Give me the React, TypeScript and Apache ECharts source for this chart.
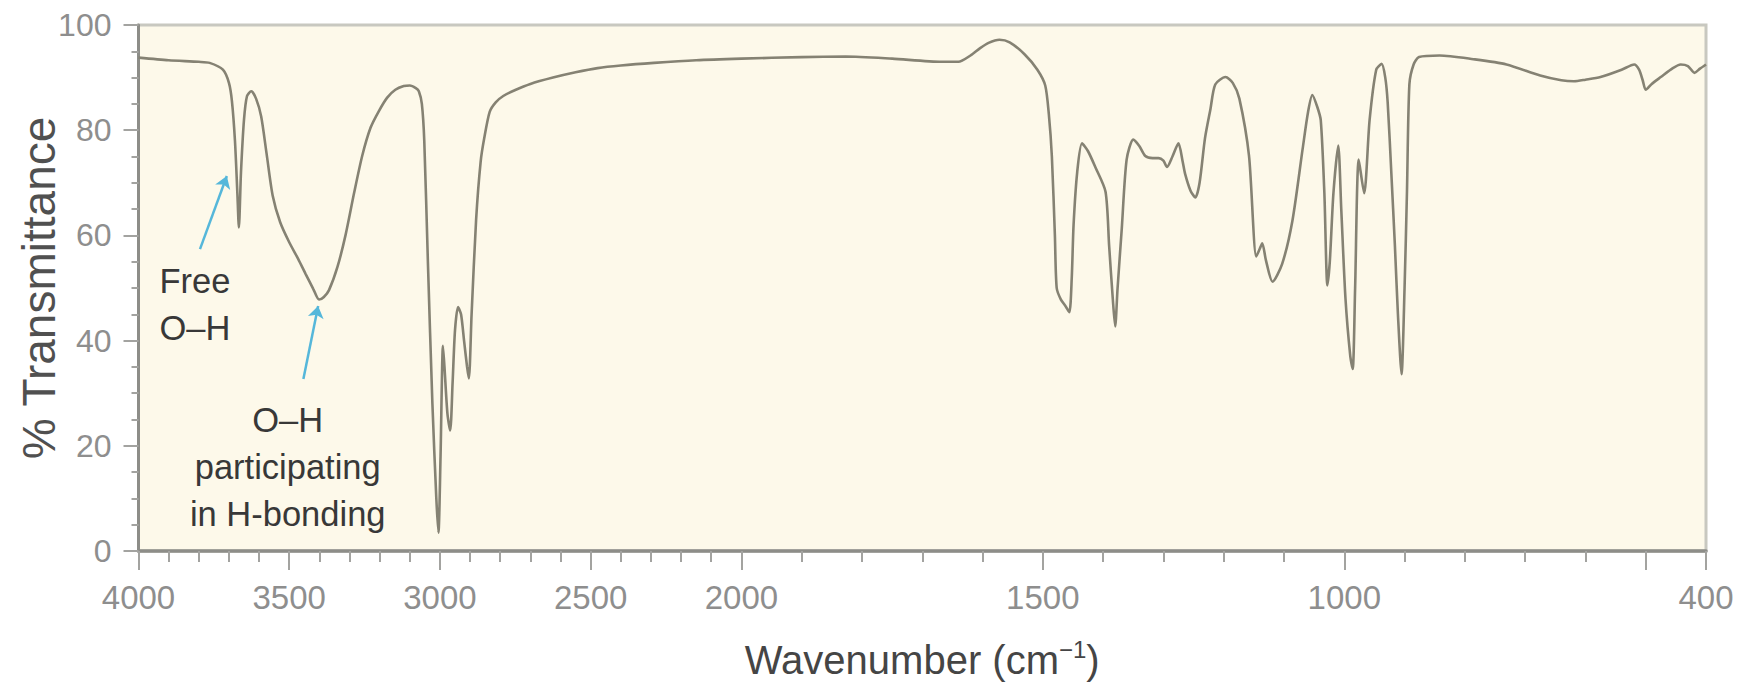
import React, { useEffect, useRef } from "react";
import * as echarts from "echarts";

// ---- Data (wavenumber in cm^-1, % transmittance) ----
const WAVENUMBERS = [
  4000, 3900, 3800, 3764, 3720, 3700, 3690, 3680, 3672, 3667, 3660, 3650, 3640, 3626, 3610, 3593, 3575, 3555, 3530, 3500,
  3470, 3445, 3420, 3401, 3385, 3368, 3340, 3313, 3285, 3258, 3230, 3203, 3175, 3148, 3120, 3100, 3080, 3070, 3060, 3052,
  3040, 3025, 3012, 3005, 2998, 2990, 2985, 2975, 2966, 2958, 2950, 2940, 2930, 2920, 2910, 2904, 2895, 2880, 2865, 2853,
  2835, 2815, 2790, 2752, 2700, 2625, 2550, 2477, 2400, 2290, 2150, 2000, 1900, 1827, 1750, 1668, 1640, 1620, 1604, 1590,
  1572, 1555, 1530, 1509, 1496, 1490, 1485, 1480, 1477, 1470, 1462, 1456, 1452, 1449, 1443, 1435, 1425, 1413, 1396, 1390,
  1384, 1380, 1376, 1369, 1361, 1350, 1340, 1330, 1318, 1308, 1300, 1294, 1285, 1275, 1268, 1264, 1255, 1247, 1240, 1231,
  1222, 1214, 1197, 1185, 1174, 1158, 1146, 1140, 1136, 1130, 1119, 1103, 1086, 1069, 1060, 1053, 1045, 1039, 1033, 1028,
  1024, 1018, 1010, 1005, 998, 990, 986, 982, 976, 967, 958, 947, 938, 932, 928, 922, 916, 911, 905, 900,
  896, 892, 885, 876, 842, 786, 731, 675, 640, 619, 600, 575, 540, 519, 511, 505, 500, 490, 475, 455,
  442, 430, 419, 410, 400,
];
const TRANSMITTANCE = [
  93.8, 93.3, 93.0, 92.8, 91.5, 89.0, 85.5, 78, 68, 61.5, 72, 82, 86.5, 87.4, 86, 82.6, 75.5, 67.6, 62.5, 58.7,
  55.5, 52.6, 49.8, 47.8, 48.3, 49.6, 54, 60.1, 68, 75.1, 80.5, 83.6, 86.2, 87.7, 88.4, 88.5, 88.0, 87.4, 85.0, 78,
  55, 28, 10, 3.5, 18, 39, 35, 26, 22.9, 32, 42, 46.4, 45, 40, 35, 32.8, 45, 63, 74, 78.5,
  83.5, 85.3, 86.5, 87.6, 88.8, 90, 91.0, 91.8, 92.3, 92.8, 93.3, 93.6, 93.9, 94.0, 93.6, 93.0, 93.0, 94.2, 95.6, 96.6,
  97.2, 96.7, 94.4, 91.5, 88.5, 83, 75, 60, 50, 47.8, 46.5, 45.4, 52, 62, 72, 77.5, 76, 73.0, 68.3, 58,
  48, 42.7, 50, 61.4, 74.4, 78.2, 77, 75.1, 74.7, 74.7, 74.2, 73.0, 75, 77.5, 74, 71.7, 68.5, 67.2, 70, 78.5,
  84, 88.7, 90.1, 89, 86, 75.1, 56, 57.5, 58.5, 55.3, 51.2, 54.6, 62.8, 76.5, 83.5, 86.7, 84.5, 81.9, 68, 50.5,
  55, 68, 77.1, 65, 48, 37, 34.6, 50, 74.4, 68, 81.9, 91.5, 92.6, 90, 85.3, 72, 58.0, 45, 33.6, 50,
  68.3, 88.7, 92.5, 93.9, 94.2, 93.5, 92.5, 90.4, 89.5, 89.3, 89.6, 90.1, 91.5, 92.5, 91.5, 89.5, 87.7, 88.8, 90.1, 91.8,
  92.5, 92.2, 90.9, 91.7, 92.5,
];

// Axis ticks (wavenumbers)
const X_LABEL_TICKS = [4000, 3500, 3000, 2500, 2000, 1500, 1000, 400];
const X_MAJOR_TICKS = [4000, 3500, 3000, 2500, 2000, 1500, 1000, 500, 400];
const X_MINOR_TICKS = [
  3900, 3800, 3700, 3600, 3400, 3300, 3200, 3100, 2900, 2800, 2700, 2600, 2400, 2300, 2200, 2100,
  1900, 1800, 1700, 1600, 1400, 1300, 1200, 1100, 900, 800, 700, 600,
];
const Y_TICKS = [0, 20, 40, 60, 80, 100];

// Annotations: [wavenumber, transmittance]
const FREE_OH_LABEL = { text: "Free\nO–H", at: [3813, 46.8] };
const HBOND_LABEL = { text: "O–H\nparticipating\nin H-bonding", at: [3505, 15.9] };
const ARROWS = [
  { from: [3796, 57.4], to: [3707, 71.3] },
  { from: [3453, 32.7], to: [3404, 46.6] },
];

// IR spectra use a doubled scale below 2000 cm^-1
const toU = (w: number) => (w >= 2000 ? (4000 - w) / 2 : 1000 + (2000 - w));
const fromU = (u: number) => (u <= 1000 ? 4000 - 2 * u : 2000 - (u - 1000));

const FONT = "'Liberation Sans', Arial, Helvetica, sans-serif";

export default function App() {
  const ref = useRef<HTMLDivElement>(null);

  useEffect(() => {
    document.body.style.margin = "0";
    document.body.style.overflow = "hidden";
    const chart = echarts.init(ref.current!, null, { renderer: "svg" });
    const data = WAVENUMBERS.map((w, i) => [toU(w), TRANSMITTANCE[i]]);
    const annotation = (a: { text: string; at: number[] }) => ({
      coord: [toU(a.at[0]), a.at[1]],
      symbol: "circle",
      symbolSize: 0,
      label: {
        show: true,
        position: [0, 0],
        align: "center",
        verticalAlign: "middle",
        formatter: a.text,
        fontFamily: FONT,
        fontSize: 34.5,
        lineHeight: 47,
        color: "#383838",
      },
    });

    chart.setOption({
      animation: false,
      backgroundColor: "#ffffff",
      grid: {
        left: 138.5,
        right: 33,
        top: 25,
        bottom: 132,
        containLabel: false,
        outerBoundsMode: "none",
        show: true,
        backgroundColor: "#fdf9ea",
        borderColor: "#c8c8c0",
        borderWidth: 3,
      },
      xAxis: [
        {
          type: "value",
          min: 0,
          max: 2600,
          position: "bottom",
          name: "Wavenumber (cm{sup|−1})",
          nameLocation: "middle",
          nameGap: 86,
          nameMoveOverlap: false,
          nameTextStyle: {
            fontFamily: FONT,
            fontSize: 40,
            lineHeight: 46,
            color: "#454545",
            rich: {
              sup: { fontFamily: FONT, fontSize: 24, lineHeight: 46, verticalAlign: "top", color: "#454545" },
            },
          },
          axisLine: { show: true, onZero: false, lineStyle: { color: "#8d8d88", width: 3.5 } },
          axisTick: {
            show: true,
            customValues: X_MAJOR_TICKS.map(toU),
            length: 19,
            lineStyle: { color: "#a3a3a0", width: 2 },
          },
          axisLabel: {
            show: true,
            customValues: X_LABEL_TICKS.map(toU),
            formatter: (v: number) => String(Math.round(fromU(v))),
            margin: 30,
            fontFamily: FONT,
            fontSize: 33,
            color: "#8e8e8e",
          },
          splitLine: { show: false },
        },
        {
          type: "value",
          min: 0,
          max: 2600,
          position: "bottom",
          axisLine: { show: false },
          axisTick: {
            show: true,
            customValues: X_MINOR_TICKS.map(toU),
            length: 11,
            lineStyle: { color: "#a3a3a0", width: 2 },
          },
          axisLabel: { show: false },
          splitLine: { show: false },
        },
      ],
      yAxis: {
        type: "value",
        min: 0,
        max: 100,
        interval: 20,
        name: "% Transmittance",
        nameLocation: "middle",
        nameGap: 77,
        nameMoveOverlap: false,
        nameTextStyle: { fontFamily: FONT, fontSize: 46, color: "#505050" },
        axisLine: { show: true, lineStyle: { color: "#8d8d88", width: 3 } },
        axisTick: { show: true, length: 15, lineStyle: { color: "#a3a3a0", width: 2 } },
        minorTick: { show: true, splitNumber: 4, length: 7, lineStyle: { color: "#a3a3a0", width: 2 } },
        axisLabel: {
          customValues: Y_TICKS,
          margin: 27,
          fontFamily: FONT,
          fontSize: 32,
          color: "#8e8e8e",
        },
        splitLine: { show: false },
        minorSplitLine: { show: false },
      },
      series: [
        {
          type: "line",
          xAxisIndex: 0,
          data,
          smooth: 0.25,
          showSymbol: false,
          symbol: "none",
          lineStyle: { color: "#858273", width: 2.6 },
          markLine: {
            silent: true,
            symbol: ["none", "arrow"],
            symbolSize: 12,
            label: { show: false },
            lineStyle: { color: "#55b7da", width: 2.5, type: "solid" },
            data: ARROWS.map((a) => [
              { coord: [toU(a.from[0]), a.from[1]] },
              { coord: [toU(a.to[0]), a.to[1]] },
            ]),
          },
          markPoint: {
            silent: true,
            data: [annotation(FREE_OH_LABEL), annotation(HBOND_LABEL)],
          },
        },
      ],
    });
    return () => chart.dispose();
  }, []);

  return <div ref={ref} style={{ width: 1739, height: 683 }} />;
}
